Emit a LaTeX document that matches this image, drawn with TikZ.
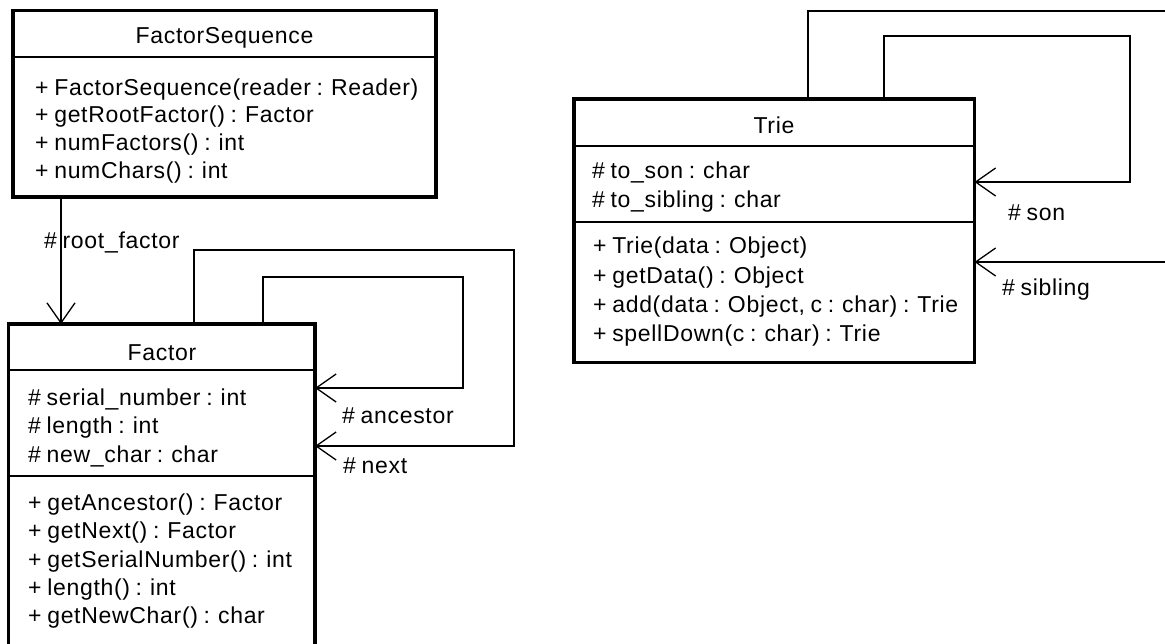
\documentclass[tikz,border=0pt]{standalone}
\usepackage{fontspec}
\setmainfont[LetterSpace=3,WordSpace=0.8]{Liberation Sans}
\usetikzlibrary{arrows.meta}
\tikzset{
  classbox/.style={draw, line width=3.5pt, outer sep=0pt, inner sep=0pt, anchor=north west},
  divider/.style={line width=2pt},
  member/.style={anchor=base west, inner sep=0pt, font=\fontsize{23}{27}\selectfont},
  cname/.style={anchor=base, inner sep=0pt, font=\fontsize{23}{27}\selectfont},
  rolelabel/.style={member},
  assoc/.style={line width=1.3pt, -{Straight Barb[length=20pt,width=28pt]}},
}
\begin{document}
\begin{tikzpicture}[x=1pt,y=-1pt]
\useasboundingbox (0,0) rectangle (1165,643);
\clip (0,0) rectangle (1165,643);

% ---------- class FactorSequence ----------
\node[classbox, minimum width=423pt, minimum height=186.5pt] (fs) at (13,10.5) {};
\draw[divider] (fs.west |- 0,57) -- (fs.east |- 0,57);
\node[cname]  (fs-name) at (224.5,43) {FactorSequence};
\node[member] (fs-op1) at (35,95)  {+ FactorSequence(reader : Reader)};
\node[member] (fs-op2) at (35,122) {+ getRootFactor() : Factor};
\node[member] (fs-op3) at (35,150) {+ numFactors() : int};
\node[member] (fs-op4) at (35,178) {+ numChars() : int};

% ---------- class Factor ----------
\node[classbox, minimum width=306.5pt, minimum height=340pt] (factor) at (8.5,324) {};
\draw[divider] (factor.west |- 0,370) -- (factor.east |- 0,370);
\draw[divider] (factor.west |- 0,476) -- (factor.east |- 0,476);
\node[cname]  (factor-name) at (162,360) {Factor};
\node[member] (factor-at1) at (28,405) {\# serial\_number : int};
\node[member] (factor-at2) at (28,433) {\# length : int};
\node[member] (factor-at3) at (28,462) {\# new\_char : char};
\node[member] (factor-op1) at (28,510) {+ getAncestor() : Factor};
\node[member] (factor-op2) at (28,538) {+ getNext() : Factor};
\node[member] (factor-op3) at (28,567) {+ getSerialNumber() : int};
\node[member] (factor-op4) at (28,595) {+ length() : int};
\node[member] (factor-op5) at (28,623) {+ getNewChar() : char};

% ---------- class Trie ----------
\node[classbox, minimum width=400.5pt, minimum height=263.5pt] (trie) at (574,99) {};
\draw[divider] (trie.west |- 0,146) -- (trie.east |- 0,146);
\draw[divider] (trie.west |- 0,222) -- (trie.east |- 0,222);
\node[cname]  (trie-name) at (774,133) {Trie};
\node[member] (trie-at1) at (592,178) {\# to\_son : char};
\node[member] (trie-at2) at (592,207) {\# to\_sibling : char};
\node[member] (trie-op1) at (593,253) {+ Trie(data : Object)};
\node[member] (trie-op2) at (593,283) {+ getData() : Object};
\node[member] (trie-op3) at (593,312) {+ add(data : Object, c : char) : Trie};
\node[member] (trie-op4) at (593,341) {+ spellDown(c : char) : Trie};

% ---------- associations ----------
% FactorSequence -> Factor
\coordinate (rootx) at (61,0);
\draw[assoc] (fs.south -| rootx) -- (factor.north -| rootx);
\node[rolelabel] (root-lbl) at (44,248) {\# root\_factor};

% Factor -> Factor (ancestor)
\coordinate (anc1) at (263,277);
\coordinate (anc2) at (463,277);
\coordinate (anc3) at (463,388);
\draw[assoc] (factor.north -| anc1) -- (anc1) -- (anc2) -- (anc3) -- (factor.east |- anc3);
\node[rolelabel] (anc-lbl) at (342,423) {\# ancestor};

% Factor -> Factor (next)
\coordinate (nxt1) at (194,250);
\coordinate (nxt2) at (514,250);
\coordinate (nxt3) at (514,446);
\draw[assoc] (factor.north -| nxt1) -- (nxt1) -- (nxt2) -- (nxt3) -- (factor.east |- nxt3);
\node[rolelabel] (nxt-lbl) at (343,473) {\# next};

% Trie -> Trie (son)
\coordinate (son1) at (884,36);
\coordinate (son2) at (1130,36);
\coordinate (son3) at (1130,182);
\draw[assoc] (trie.north -| son1) -- (son1) -- (son2) -- (son3) -- (trie.east |- son3);
\node[rolelabel] (son-lbl) at (1008,220) {\# son};

% Trie -> Trie (sibling)
\coordinate (sib1) at (808,11);
\coordinate (sib2) at (1190,11);
\coordinate (sib3) at (1190,262);
\draw[assoc] (trie.north -| sib1) -- (sib1) -- (sib2) -- (sib3) -- (trie.east |- sib3);
\node[rolelabel] (sib-lbl) at (1002,295) {\# sibling};
\end{tikzpicture}
\end{document}
